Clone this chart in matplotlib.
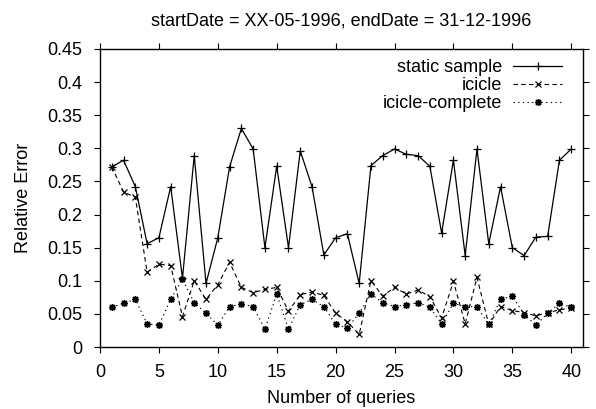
import numpy as np
import matplotlib
matplotlib.use("Agg")
from matplotlib import pyplot as plt

plt.rcParams['font.family'] = ['Liberation Sans', 'DejaVu Sans']

queries = np.arange(1, 41)

static_sample = [0.272, 0.282, 0.242, 0.156, 0.165, 0.242, 0.104, 0.289, 0.096, 0.165,
                 0.272, 0.330, 0.299, 0.150, 0.273, 0.150, 0.296, 0.242, 0.139, 0.165,
                 0.171, 0.096, 0.274, 0.289, 0.299, 0.291, 0.289, 0.273, 0.172, 0.282,
                 0.138, 0.299, 0.156, 0.242, 0.150, 0.138, 0.166, 0.167, 0.282, 0.299]

icicle = [0.272, 0.234, 0.226, 0.113, 0.125, 0.123, 0.046, 0.100, 0.072, 0.094,
          0.128, 0.090, 0.082, 0.087, 0.090, 0.054, 0.079, 0.083, 0.078, 0.051,
          0.038, 0.019, 0.100, 0.077, 0.090, 0.080, 0.086, 0.076, 0.044, 0.099,
          0.035, 0.105, 0.034, 0.061, 0.055, 0.052, 0.047, 0.052, 0.056, 0.059]

icicle_complete = [0.060, 0.066, 0.072, 0.035, 0.033, 0.072, 0.102, 0.067, 0.051, 0.033,
                   0.061, 0.065, 0.061, 0.027, 0.080, 0.027, 0.064, 0.072, 0.061, 0.034,
                   0.029, 0.051, 0.080, 0.067, 0.061, 0.064, 0.067, 0.060, 0.035, 0.066,
                   0.061, 0.061, 0.034, 0.072, 0.077, 0.049, 0.033, 0.051, 0.066, 0.060]

FS = 13

fig = plt.figure(figsize=(5.96, 4.09), dpi=100)
ax = fig.add_axes([100 / 596, 1 - 347 / 409, 483 / 596, 298 / 409])

ax.plot(queries, static_sample, color='black', lw=0.9, marker='+', ms=6,
        mew=0.9, label='static sample')
ax.plot(queries, icicle, color='black', lw=0.8, ls=(0, (4, 3)), marker='x',
        ms=4.5, mew=0.9, label='icicle')
ax.plot(queries, icicle_complete, color='black', lw=0.8, ls=(0, (1.2, 3)),
        marker=(8, 2, 0), ms=5, mew=1.0, label='icicle-complete')

ax.set_xlim(0, 41)
ax.set_ylim(0, 0.45)
ax.set_xticks(np.arange(0, 41, 5))
ax.set_yticks(np.arange(0, 0.451, 0.05))
ax.set_yticklabels(['0', '0.05', '0.1', '0.15', '0.2', '0.25', '0.3', '0.35', '0.4', '0.45'])
ax.tick_params(direction='out', length=4, width=0.8, labelsize=FS,
               top=True, right=True, color='black')
ax.tick_params(axis='y', pad=9)
ax.tick_params(axis='x', pad=8)
for s in ax.spines.values():
    s.set_linewidth(1.0)

ax.set_xlabel('Number of queries', fontsize=FS, labelpad=7)
ax.set_ylabel('Relative Error', fontsize=FS, labelpad=11)
ax.set_title('startDate = XX-05-1996, endDate = 31-12-1996', fontsize=FS, pad=17)

ax.legend(loc='upper right', bbox_to_anchor=(0.975, 0.997), frameon=False,
          markerfirst=False, alignment='right', fontsize=FS, handlelength=2.7,
          handletextpad=0.6, labelspacing=0.06, borderpad=0)

fig.savefig('out.png', dpi=100)
